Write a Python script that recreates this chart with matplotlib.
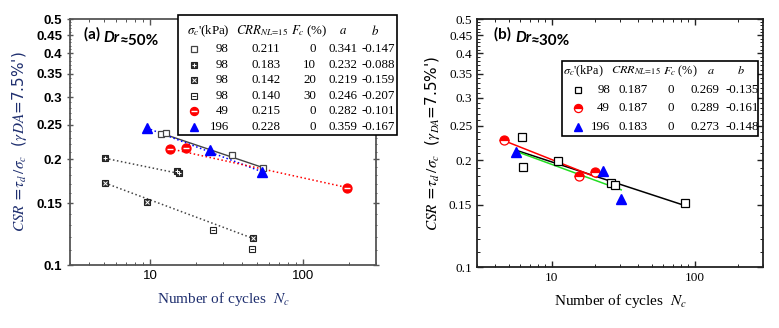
import numpy as np
import matplotlib

matplotlib.use("Agg")
import matplotlib.pyplot as plt
from matplotlib.lines import Line2D
from matplotlib.patches import Rectangle
from matplotlib.ticker import FixedLocator, NullFormatter

plt.rcParams["mathtext.fontset"] = "stix"

W, H = 779, 328

# ---- panel (a) Dr~50% : measured points (N, CSR)
a_sq_n, a_sq_csr = [11.8, 12.7, 34.4, 54.8], [0.236, 0.237, 0.205, 0.189]
a_fc10_n, a_fc10_csr = [5.08, 15.0, 15.5], [0.201, 0.185, 0.183]
a_fc20_n, a_fc20_csr = [5.08, 9.55, 47.1], [0.171, 0.151, 0.119]
a_fc30_n, a_fc30_csr = [25.8, 46.4], [0.126, 0.111]
a_s49_n, a_s49_csr = [13.5, 17.2, 194.0], [0.214, 0.215, 0.166]
a_s196_n, a_s196_csr = [9.55, 24.7, 54.0], [0.245, 0.212, 0.184]

# fit lines (end points)
a_sq_fit_n, a_sq_fit_csr = [11.8, 55.0], [0.237, 0.189]
a_fc10_fit_n, a_fc10_fit_csr = [5.08, 15.5], [0.201, 0.182]
a_fc20_fit_n, a_fc20_fit_csr = [5.08, 47.1], [0.171, 0.119]
a_s49_fit_n, a_s49_fit_csr = [13.5, 194.0], [0.214, 0.166]
a_s196_fit_n, a_s196_fit_csr = [9.55, 54.0], [0.245, 0.184]

a_rows = [
    ["98", "0.211", "0", "0.341", "-0.147"],
    ["98", "0.183", "10", "0.232", "-0.088"],
    ["98", "0.142", "20", "0.219", "-0.159"],
    ["98", "0.140", "30", "0.246", "-0.207"],
    ["49", "0.215", "0", "0.282", "-0.101"],
    ["196", "0.228", "0", "0.359", "-0.167"],
]

# ---- panel (b) Dr~30%
b_sq_n, b_sq_csr = [6.19, 6.3, 11.0, 26.1, 27.8, 85.3], [0.232, 0.191, 0.199, 0.173, 0.170, 0.151]
b_s49_n, b_s49_csr = [4.64, 15.6, 20.2], [0.228, 0.181, 0.185]
b_s196_n, b_s196_csr = [5.62, 23.0, 30.6], [0.211, 0.187, 0.155]

b_sq_fit_n, b_sq_fit_csr = [5.7, 85.3], [0.213, 0.149]
b_s49_fit_n, b_s49_fit_csr = [4.64, 20.5], [0.227, 0.179]
b_s196_fit_n, b_s196_fit_csr = [5.6, 30.6], [0.212, 0.165]

b_rows = [
    ["98", "0.187", "0", "0.269", "-0.135"],
    ["49", "0.187", "0", "0.289", "-0.161"],
    ["196", "0.183", "0", "0.273", "-0.148"],
]

y_ticks = [0.1, 0.15, 0.2, 0.25, 0.3, 0.35, 0.4, 0.45, 0.5]
y_tick_labels = ["0.1", "0.15", "0.2", "0.25", "0.3", "0.35", "0.4", "0.45", "0.5"]
x_ticks = [10, 100]
x_tick_labels = ["10", "100"]

NAVY = "#1f2f6f"
GRAY = "#555555"


def fx(px):
    return px / W


def fy(py):
    return 1 - py / H


def axes_at(fig, x0, y0, x1, y1):
    return fig.add_axes([fx(x0), fy(y1), fx(x1) - fx(x0), fy(y0) - fy(y1)])


# marker styles: (base kwargs, overlay kwargs or None)
def mk_open_sq(ec="k", ms=4.5):
    return dict(marker="s", ms=ms, mfc="white", mec=ec, mew=0.9, ls="none"), None


def mk_sq_over(sym, face="#333333", over="white"):
    return (dict(marker="s", ms=5, mfc=face, mec="#222222", mew=0.8, ls="none"),
            dict(marker=sym, ms=3.5, mec=over, mew=0.7, ls="none"))


def mk_red(fill="full"):
    if fill == "full":
        return (dict(marker="o", ms=6.5, mfc="red", mec="red", mew=0.9, ls="none"),
                dict(marker="_", ms=5, mec="white", mew=1.0, ls="none"))
    return dict(marker="o", ms=6.5, mfc="red", mfcalt="white", fillstyle="top",
                mec="red", mew=0.9, ls="none"), None


def mk_tri():
    return dict(marker="^", ms=7, mfc="blue", mec="blue", ls="none"), None


def plot_pts(ax, n, csr, style):
    base, over = style
    ax.plot(n, csr, **base, zorder=4)
    if over:
        ax.plot(n, csr, **over, zorder=5)


def table_marker(fig, px, py, style, scale=1.0):
    base, over = style
    for kw, z in ((base, 12), (over, 13)):
        if kw is None:
            continue
        k = dict(kw)
        k["ms"] = k["ms"] * scale
        fig.add_artist(Line2D([fx(px)], [fy(py)], transform=fig.transFigure, zorder=z, **k))


def draw_table(fig, box, head_y, row_y, cols, rows, styles, fs=9.3, hfs=9.3):
    x0, y0, x1, y1 = box
    fig.add_artist(Rectangle((fx(x0), fy(y1)), fx(x1) - fx(x0), fy(y0) - fy(y1),
                             transform=fig.transFigure, fc="white", ec="black",
                             lw=1.2, zorder=10))
    heads = [r"$\sigma_c$'(kPa)", r"$CRR_{NL\!=\!15}$", r"$F_c$ (%)", r"$a$", r"$b$"]
    for (hx, ha), h in zip(cols["head"], heads):
        fig.text(fx(hx), fy(head_y), h, ha=ha, va="center", fontsize=hfs,
                 family="Liberation Serif", zorder=11)
    for yy, row, st in zip(row_y, rows, styles):
        table_marker(fig, cols["marker"], yy, st, 0.9)
        for (cx, ha), v in zip(cols["vals"], row):
            fig.text(fx(cx), fy(yy), v, ha=ha, va="center", fontsize=fs,
                     family="Liberation Serif", zorder=11)


def panel_title(ax, x, y, tag, pct):
    kw = dict(fontsize=11, weight="bold", family="Lato", va="baseline")
    t1 = ax.text(x, y, tag + " ", transform=ax.transAxes, **kw)
    t2 = ax.annotate("Dr", xy=(1, 0), xycoords=t1, style="italic", **kw)
    ax.annotate("\u2248" + pct, xy=(1, 0), xycoords=t2, **kw)


def style_axes(ax, spine_col, tick_family):
    ax.set_xscale("log")
    ax.set_yscale("log")
    ax.set_xlim(3, 300)
    ax.set_ylim(0.1, 0.5)
    ax.yaxis.set_major_locator(FixedLocator(y_ticks))
    ax.set_yticklabels(y_tick_labels)
    ax.yaxis.set_minor_locator(FixedLocator(np.arange(0.11, 0.5, 0.01)))
    ax.yaxis.set_minor_formatter(NullFormatter())
    ax.xaxis.set_major_locator(FixedLocator(x_ticks))
    ax.set_xticklabels(x_tick_labels)
    for s in ax.spines.values():
        s.set_color(spine_col)
        s.set_linewidth(1.3)
    ax.tick_params(which="both", direction="in", top=True, right=True,
                   colors=spine_col, labelcolor="black")
    ax.tick_params(which="major", length=4, width=1.0)
    ax.tick_params(which="minor", length=2, width=0.7)
    for lab in ax.get_xticklabels() + ax.get_yticklabels():
        lab.set_family(tick_family)
        lab.set_fontsize(9.5)


fig = plt.figure(figsize=(W / 100, H / 100), dpi=100)

# ================= panel (a)
ax = axes_at(fig, 70, 19, 376, 265)
style_axes(ax, GRAY, "Liberation Sans")
ax.tick_params(axis="y", which="both", direction="inout")
for lab in ax.get_yticklabels():
    lab.set_weight("semibold")

ax.plot(a_sq_fit_n, a_sq_fit_csr, color="#444444", lw=1.0)
ax.plot(a_s196_fit_n, a_s196_fit_csr, color="blue", lw=1.1, ls=":")
ax.plot(a_s49_fit_n, a_s49_fit_csr, color="red", lw=1.1, ls=":")
ax.plot(a_fc10_fit_n, a_fc10_fit_csr, color="#444444", lw=1.1, ls=":")
ax.plot(a_fc20_fit_n, a_fc20_fit_csr, color="#444444", lw=1.1, ls=":")

a_styles = [mk_open_sq("#444444"), mk_sq_over("+"), mk_sq_over("x"),
            mk_sq_over("_", face="white", over="#222222"), mk_red(), mk_tri()]
for (n, c), st in zip([(a_sq_n, a_sq_csr), (a_fc10_n, a_fc10_csr), (a_fc20_n, a_fc20_csr),
                       (a_fc30_n, a_fc30_csr), (a_s49_n, a_s49_csr), (a_s196_n, a_s196_csr)],
                      a_styles):
    plot_pts(ax, n, c, st)

panel_title(ax, 0.045, 0.92, "(a)", "50%")
ax.set_xlabel(r"Number of cycles  $N_c$", family="Liberation Serif", fontsize=11,
              color=NAVY, labelpad=6)
ax.set_ylabel(r"$CSR$ =$\tau_d\,/\sigma_c$  ($\gamma DA$=7.5%')", fontsize=11,
              color=NAVY, labelpad=5)

draw_table(
    fig, (178, 15, 397, 135), 31, [49, 65, 80, 96, 111, 127],
    {"head": [(187, "left"), (236, "left"), (291, "left"), (343, "center"), (375, "center")],
     "marker": 194,
     "vals": [(229, "right"), (266, "center"), (316, "right"), (343, "center"), (362, "left")]},
    a_rows, a_styles,
)

# ================= panel (b)
bx = axes_at(fig, 477, 19, 763, 267)
style_axes(bx, "#222222", "Liberation Serif")

bx.plot(b_sq_fit_n, b_sq_fit_csr, color="black", lw=1.1)
bx.plot(b_s49_fit_n, b_s49_fit_csr, color="red", lw=1.1)
bx.plot(b_s196_fit_n, b_s196_fit_csr, color="#22dd22", lw=1.1)

b_styles = [mk_open_sq("black", 5.5), mk_red("top"), mk_tri()]
for (n, c), st in zip([(b_sq_n, b_sq_csr), (b_s49_n, b_s49_csr), (b_s196_n, b_s196_csr)],
                      b_styles):
    plot_pts(bx, n, c, st)

panel_title(bx, 0.06, 0.92, "(b)", "30%")
bx.set_xlabel(r"Number of cycles  $N_c$", family="Liberation Serif", fontsize=11,
              labelpad=6)
bx.set_ylabel(r"$CSR$ =$\tau_d\,/\sigma_c$  ($\gamma_{DA}$=7.5%')", fontsize=11,
              labelpad=5)

draw_table(
    fig, (562, 61, 758, 136), 71, [90, 108, 127],
    {"head": [(563, "left"), (611, "left"), (663, "left"), (711, "center"), (741, "center")],
     "marker": 578,
     "vals": [(610, "right"), (633, "center"), (671, "center"), (705, "center"), (742, "center")]},
    b_rows, b_styles, hfs=8.8,
)

fig.savefig("out.png", dpi=100)
